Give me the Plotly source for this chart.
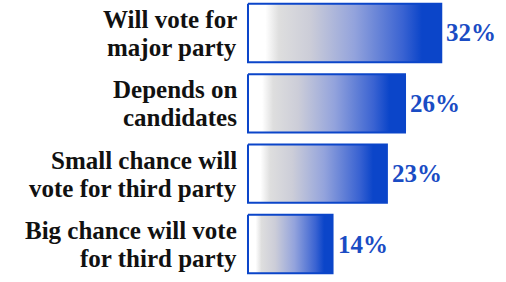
import plotly.graph_objects as go

categories = ["Will vote for<br>major party", "Depends on<br>candidates",
              "Small chance will<br>vote for third party", "Big chance will vote<br>for third party"]
values = [32, 26, 23, 14]
value_labels = ["32%", "26%", "23%", "14%"]

BLUE = "#0b45c9"
bar_half = 0.415
gradient = [[0.0, "#ffffff"], [0.09, "#ffffff"], [0.16, "#dedede"], [0.32, "#cccdd8"],
            [0.55, "#93a3dc"], [0.8, "#3a63d2"], [0.9, "#0b45c9"], [1.0, "#0b45c9"]]

fig = go.Figure()
for i, v in enumerate(values):
    fig.add_trace(go.Scatter(
        x=[0, v, v, 0, 0],
        y=[i - bar_half, i - bar_half, i + bar_half, i + bar_half, i - bar_half],
        mode="lines", fill="toself",
        fillgradient=dict(type="horizontal", colorscale=gradient),
        line=dict(color=BLUE, width=2),
        hoverinfo="skip", showlegend=False,
    ))

SERIF = "'Liberation Serif', serif"
font_lab = dict(family=SERIF, size=25, color="#111111", weight="bold")
font_val = dict(family=SERIF, size=25, color="#1a4cc4", weight="bold")

for i, (cat, v, lab) in enumerate(zip(categories, values, value_labels)):
    lines = cat.split("<br>")
    shifts = [13.4, -14.6]
    for ln, ys in zip(lines, shifts):
        fig.add_annotation(x=0, y=i, text=ln, showarrow=False, xanchor="right",
                           yanchor="middle", xshift=-10, yshift=ys, font=font_lab,
                           borderpad=0)
    fig.add_annotation(x=v, y=i, text=lab, showarrow=False, xanchor="left",
                       yanchor="middle", xshift=3, yshift=0, font=font_val)

fig.update_layout(
    width=506, height=282, margin=dict(l=0, r=0, t=0, b=0),
    paper_bgcolor="white", plot_bgcolor="white",
    font=dict(family=SERIF),
    xaxis=dict(range=[-41.06, 42.72], visible=False, fixedrange=True),
    yaxis=dict(range=[3.54, -0.469], visible=False, fixedrange=True),
)
fig.write_html("out.html", config={"displayModeBar": False},
               post_script="document.body.style.margin='0';document.body.style.overflow='hidden';")
